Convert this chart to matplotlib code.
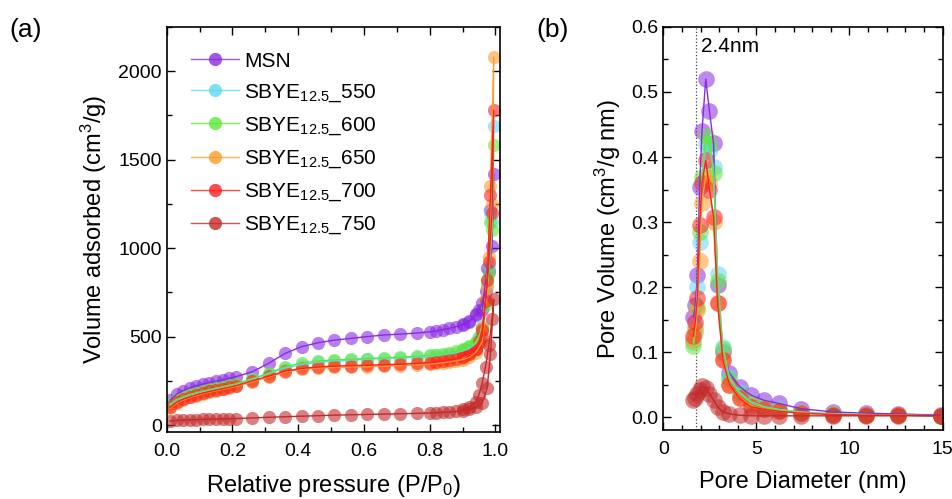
import numpy as np
import matplotlib.pyplot as plt
from matplotlib.ticker import MultipleLocator

plt.rcParams['font.family'] = ['Liberation Sans', 'DejaVu Sans']
plt.rcParams['mathtext.default'] = 'regular'

labels = ['MSN', 'SBYE$_{12.5}$_550', 'SBYE$_{12.5}$_600',
          'SBYE$_{12.5}$_650', 'SBYE$_{12.5}$_700', 'SBYE$_{12.5}$_750']
colors = ['#8a2be2', '#5fd8f0', '#5ee83a', '#ff9a2a', '#ff2020', '#c22b2b']

# (a) isotherms: adsorption then desorption branch
p_ads = [0.01, 0.03, 0.05, 0.07, 0.09, 0.11, 0.13, 0.15, 0.17, 0.19, 0.21,
         0.26, 0.31, 0.36, 0.41, 0.46, 0.51, 0.56, 0.61, 0.66, 0.71, 0.76,
         0.80, 0.82, 0.84, 0.86, 0.88, 0.90, 0.92, 0.94, 0.96, 0.975, 0.985, 0.995]
p_des = [0.99, 0.98, 0.97, 0.96, 0.95, 0.94, 0.92, 0.90]

v_ads = {
    'MSN': [140, 175, 195, 210, 222, 232, 240, 248, 256, 264, 273,
            301, 349, 405, 443, 465, 480, 490, 500, 509, 514, 520,
            527, 532, 540, 546, 556, 565, 584, 621, 650, 887, 1215, 1420],
    '550': [112, 140, 155, 168, 178, 188, 196, 204, 212, 220, 228,
            258, 290, 322, 342, 355, 363, 368, 372, 376, 380, 384,
            390, 394, 398, 404, 410, 418, 432, 460, 520, 800, 1200, 1690],
    '600': [118, 145, 160, 173, 183, 193, 201, 209, 217, 225, 233,
            262, 294, 330, 350, 362, 368, 372, 376, 380, 384, 388,
            394, 398, 403, 410, 416, 424, 440, 470, 540, 820, 1150, 1580],
    '650': [95, 125, 142, 156, 167, 177, 186, 194, 202, 210, 218,
            245, 272, 300, 315, 322, 326, 328, 330, 333, 336, 340,
            345, 348, 352, 357, 363, 370, 382, 410, 470, 780, 1350, 2080],
    '700': [100, 130, 146, 160, 171, 181, 190, 198, 206, 214, 222,
            250, 276, 305, 320, 328, 333, 336, 338, 341, 344, 348,
            353, 357, 362, 368, 374, 386, 400, 430, 500, 820, 1300, 1780],
    '750': [22, 26, 28, 30, 31, 32, 33, 34, 35, 36, 37,
            40, 44, 47, 50, 53, 56, 58, 60, 62, 64, 66,
            68, 70, 72, 74, 77, 82, 88, 100, 125, 210, 400, 710],
}
v_des = {
    'MSN': [1010, 870, 760, 690, 650, 625, 590, 570],
    '550': [1150, 900, 700, 560, 500, 470, 440, 425],
    '600': [1100, 860, 680, 550, 495, 465, 445, 430],
    '650': [1250, 950, 720, 550, 470, 430, 400, 380],
    '700': [1200, 920, 700, 540, 470, 430, 405, 390],
    '750': [600, 450, 330, 240, 170, 130, 100, 88],
}

# (b) pore size distributions
d_pore = [1.62, 1.72, 1.83, 1.95, 2.08, 2.28, 2.48, 2.7, 2.92, 3.2, 3.55,
          4.1, 4.7, 5.4, 6.2, 7.4, 9.1, 10.9, 12.6, 14.9]
pv = {
    'MSN': [0.154, 0.172, 0.218, 0.354, 0.44, 0.52, 0.47, 0.421, 0.203, 0.10,
            0.068, 0.047, 0.034, 0.026, 0.021, 0.013, 0.008, 0.006, 0.005, 0.003],
    '550': [0.115, 0.14, 0.20, 0.27, 0.36, 0.42, 0.41, 0.385, 0.22, 0.108,
            0.062, 0.038, 0.024, 0.016, 0.012, 0.008, 0.005, 0.004, 0.003, 0.002],
    '600': [0.11, 0.13, 0.17, 0.285, 0.37, 0.432, 0.42, 0.375, 0.21, 0.105,
            0.058, 0.036, 0.022, 0.015, 0.011, 0.007, 0.005, 0.004, 0.003, 0.002],
    '650': [0.118, 0.135, 0.165, 0.24, 0.33, 0.37, 0.36, 0.30, 0.175, 0.09,
            0.05, 0.03, 0.018, 0.012, 0.009, 0.006, 0.004, 0.003, 0.003, 0.002],
    '700': [0.124, 0.147, 0.183, 0.295, 0.36, 0.395, 0.35, 0.308, 0.175, 0.088,
            0.05, 0.029, 0.016, 0.012, 0.009, 0.006, 0.004, 0.003, 0.003, 0.002],
    '750': [0.026, 0.029, 0.036, 0.042, 0.048, 0.045, 0.036, 0.026, 0.016, 0.008,
            0.005, 0.003, 0.002, 0.002, 0.002, 0.002, 0.002, 0.002, 0.002, 0.002],
}
keys = ['MSN', '550', '600', '650', '700', '750']

fig = plt.figure(figsize=(9.53, 4.99), dpi=100)
ax1 = fig.add_axes([0.175, 0.134, 0.350, 0.812])
ax2 = fig.add_axes([0.696, 0.138, 0.293, 0.808])

for k, lab, c in zip(keys, labels, colors):
    x = p_ads + p_des
    y = v_ads[k] + v_des[k]
    ax1.plot(x, y, color=c, lw=1.0, zorder=3)
    ax1.plot(x, y, 'o', color=c, ms=9.5, alpha=0.6, mec='none', zorder=2)
    ax1.plot([], [], '-o', color=c, lw=1.0, ms=9.5, alpha=0.8, mec='none', label=lab)

ax1.set_xlim(0, 1.015)
ax1.set_ylim(-40, 2250)
ax1.xaxis.set_minor_locator(MultipleLocator(0.1))
ax1.yaxis.set_major_locator(MultipleLocator(500))
ax1.yaxis.set_minor_locator(MultipleLocator(250))
ax1.set_xticks([0, 0.2, 0.4, 0.6, 0.8, 1.0])
ax1.set_xticklabels(['0.0', '0.2', '0.4', '0.6', '0.8', '1.0'])
ax1.set_xlabel('Relative pressure (P/P$_0$)', fontsize=17, labelpad=9)
ax1.set_ylabel('Volume adsorbed (cm$^3$/g)', fontsize=17, labelpad=7)
leg = ax1.legend(loc='upper left', frameon=False, fontsize=15, labelspacing=0.56,
                 handlelength=2.3, handletextpad=0.25, borderaxespad=0.3,
                 bbox_to_anchor=(0.03, 0.975))

for k, c in zip(keys, colors):
    ax2.plot(d_pore, pv[k], color=c, lw=1.0, zorder=3)
    ax2.plot(d_pore, pv[k], 'o', color=c, ms=12, alpha=0.55, mec='none', zorder=2)

ax2.axvline(1.75, color='#444444', lw=0.9, ls=':', zorder=1)
ax2.text(2.0, 0.57, '2.4nm', fontsize=15, va='center')
ax2.set_xlim(0, 15)
ax2.set_ylim(-0.02, 0.6)
ax2.xaxis.set_major_locator(MultipleLocator(5))
ax2.xaxis.set_minor_locator(MultipleLocator(1))
ax2.yaxis.set_major_locator(MultipleLocator(0.1))
ax2.yaxis.set_minor_locator(MultipleLocator(0.05))
ax2.set_xlabel('Pore Diameter (nm)', fontsize=17, labelpad=9)
ax2.set_ylabel('Pore Volume (cm$^3$/g nm)', fontsize=17, labelpad=6)

for ax in (ax1, ax2):
    ax.tick_params(which='both', direction='in', top=True, right=True, labelsize=14)
    ax.tick_params(which='major', length=6, width=1)
    ax.tick_params(which='minor', length=3.5, width=1)
    ax.tick_params(axis='x', pad=8)
    for s in ax.spines.values():
        s.set_linewidth(1.2)

fig.text(0.010, 0.925, '(a)', fontsize=19)
fig.text(0.563, 0.925, '(b)', fontsize=19)

fig.savefig('out.png', dpi=100)
